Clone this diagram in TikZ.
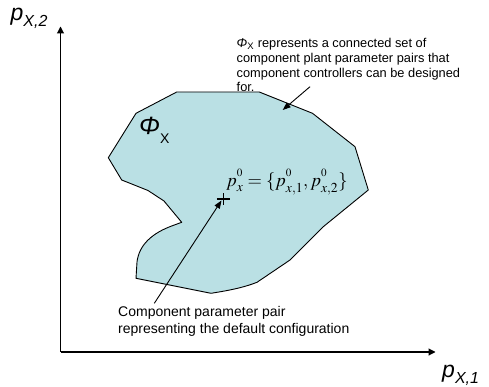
\documentclass[tikz,border=0pt]{standalone}
\usepackage{mathptmx}
\usepackage{fontspec}
\setmainfont{Liberation Sans}
\usetikzlibrary{arrows.meta}
\definecolor{regionfill}{RGB}{186,224,228}
\newcommand{\zsup}{\raisebox{4pt}{$\scriptscriptstyle 0$}}
\tikzset{
  axis/.style={line width=1.1pt,-{Triangle[length=7pt,width=7pt]}},
  leader/.style={line width=0.9pt,-{Triangle[length=8pt,width=6pt]}},
  region/.style={draw=black,line width=0.9pt,fill=regionfill,line join=round},
  lbl/.style={inner sep=0pt,anchor=base west},
}
\begin{document}
\begin{tikzpicture}[x=1pt,y=-1pt]
\useasboundingbox (0,0) rectangle (489,387);
% region
\path[region] (181.7,222.3) -- (173,225.5) .. controls (152,233) and (139,245) .. (137,262) -- (136,278.3)
  -- (211,293.3) .. controls (232,290) and (245,287) .. (257,282.3) -- (290,260) -- (323.3,226.7)
  -- (368.3,190) -- (355,146.7) -- (312.5,113.3) -- (259.3,92) -- (176.7,92) -- (136,113.3)
  -- (108.3,157.7) -- (121.7,180) -- (148,190.5) -- (164,201) -- cycle;
% axes
\coordinate (O) at (60.5,352);
\coordinate (ytop) at (60.5,26.5);
\coordinate (xend) at (435.5,352);
\draw[axis] (O) -- (ytop);
\draw[axis] (O) -- (xend);
% axis labels
\node[lbl] (ylab) at (10.5,20.5) {\fontsize{23}{23}\selectfont\textit{p}\raisebox{-6pt}{\fontsize{16}{16}\selectfont\textit{X,2}}};
\node[lbl] (xlab) at (442,377) {\fontsize{23}{23}\selectfont\textit{p}\raisebox{-6pt}{\fontsize{16}{16}\selectfont\textit{X,1}}};
% region label
\node[lbl] (phi) at (139,135) {\fontsize{25}{25}\selectfont\textit{Φ}\raisebox{-9pt}{\fontsize{14}{14}\selectfont X}};
% default point
\coordinate (pt) at (223.3,199);
\draw[line width=1.6pt] ([xshift=-6.5pt]pt) -- ([xshift=6.5pt]pt);
\draw[line width=1.6pt] ([yshift=-6pt]pt) -- ([yshift=6pt]pt);
\node[lbl] (formula) at (226,187) {\fontsize{18.5}{18.5}\selectfont$p^{\zsup}_{x}\mathrel{=}\{p^{\zsup}_{x,1},p^{\zsup}_{x,2}\}$};
% annotation texts
\node[inner sep=0pt,anchor=north west,align=left,font=\fontsize{12.8}{14.8}\selectfont] (toptext) at (236.5,38)
  {\textit{Φ}\textsubscript{X} represents a connected set of\\component plant parameter pairs that\\component controllers can be designed\\for.};
\node[inner sep=0pt,anchor=north west,align=left,font=\fontsize{14}{16.2}\selectfont] (bottext) at (118,306.5)
  {Component parameter pair\\representing the default configuration};
% leaders
\coordinate (c1) at (310,86.7);
\coordinate (c1end) at (282.7,110);
\draw[leader] (c1) -- (c1end);
\coordinate (c2) at (154.3,303.3);
\coordinate (c2end) at (221.5,200.5);
\draw[leader] (c2) -- (c2end);
\end{tikzpicture}
\end{document}
